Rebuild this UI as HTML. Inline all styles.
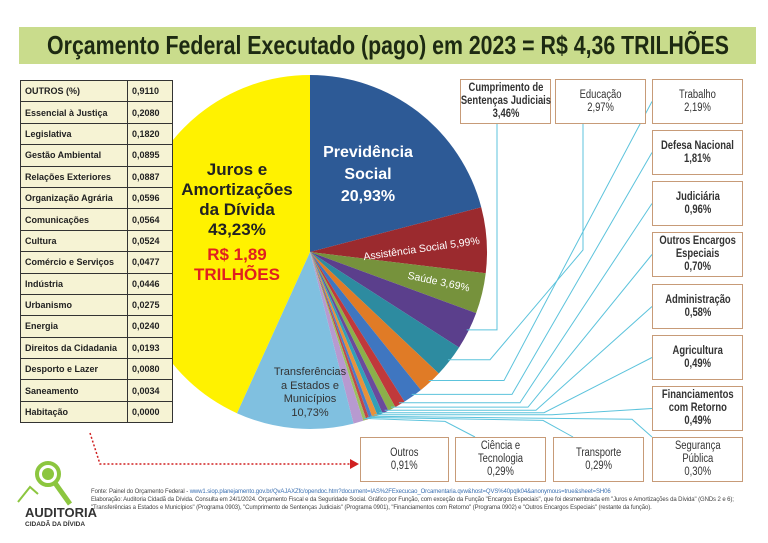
<!DOCTYPE html>
<html><head><meta charset="utf-8"><style>
body{margin:0;width:768px;height:543px;background:#fff;overflow:hidden;font-family:"Liberation Sans",sans-serif;position:relative}
.title{position:absolute;left:19px;top:27px;width:737px;height:37px;background:#c9dc8c;color:#1d2a12;font-weight:bold;font-size:26px;line-height:37px;white-space:nowrap;overflow:hidden}
.title span{position:absolute;left:50%;top:0;transform:translateX(-50%) scaleX(0.82);transform-origin:center}
table{position:absolute;left:20px;top:80px;border-collapse:collapse;background:#f6f3d4;font-size:9px;font-weight:bold;color:#222;border:1.5px solid #333;z-index:5;white-space:nowrap}
td{border:1px solid #333;height:21.4px;padding:0 4px;box-sizing:border-box}
td.n{width:45px}td.l{width:107px}
.box{position:absolute;border:1.5px solid #c79b78;background:#fff;box-sizing:border-box;font-size:11.5px;text-align:center;color:#333;display:flex;align-items:center;justify-content:center;line-height:13px;white-space:nowrap}
.box>div{transform:scaleX(0.82)}
.b{font-weight:bold}
.foot{position:absolute;left:91px;top:488px;width:670px;font-size:6px;line-height:8px;color:#444;letter-spacing:-0.1px}
.foot a{color:#3a6fb0}
</style></head><body>
<div class="title"><span>Orçamento Federal Executado (pago) em 2023 = R$ 4,36 TRILHÕES</span></div>
<svg id="svg" width="768" height="543" style="position:absolute;left:0;top:0"></svg>
<table><tbody id="tb"></tbody></table>
<div id="boxes"></div>
<svg width="90" height="70" style="position:absolute;left:10px;top:452px">
<circle cx="38" cy="22" r="11" fill="none" stroke="#8cc63f" stroke-width="4"/><circle cx="38" cy="22" r="6" fill="#8cc63f"/>
<line x1="45" y1="31" x2="60" y2="52" stroke="#8cc63f" stroke-width="5"/><polyline points="8,50 20,35 28,42" fill="none" stroke="#8cc63f" stroke-width="2"/></svg>
<div style="position:absolute;left:25px;top:505px;font-weight:bold;font-size:13px;color:#333">AUDITORIA</div>
<div style="position:absolute;left:25px;top:521px;font-weight:bold;font-size:6.5px;color:#333">CIDADÃ DA DÍVIDA</div>
<div class="foot">Fonte: Painel do Orçamento Federal - <a>www1.siop.planejamento.gov.br/QvAJAXZfc/opendoc.htm?document=IAS%2FExecucao_Orcamentaria.qvw&amp;host=QVS%40pqlk04&amp;anonymous=true&amp;sheet=SH06</a><br>Elaboração: Auditoria Cidadã da Dívida. Consulta em 24/1/2024. Orçamento Fiscal e da Seguridade Social. Gráfico por Função, com exceção da Função "Encargos Especiais", que foi desmembrada em "Juros e Amortizações da Dívida" (GNDs 2 e 6); "Transferências a Estados e Municípios" (Programa 0903), "Cumprimento de Sentenças Judiciais" (Programa 0901), "Financiamentos com Retorno" (Programa 0902) e "Outros Encargos Especiais" (restante da função).</div>
<script>
const tableLabels=["OUTROS (%)","Essencial à Justiça","Legislativa","Gestão Ambiental","Relações Exteriores","Organização Agrária","Comunicações","Cultura","Comércio e Serviços","Indústria","Urbanismo","Energia","Direitos da Cidadania","Desporto e Lazer","Saneamento","Habitação"];
const tableValues=["0,9110","0,2080","0,1820","0,0895","0,0887","0,0596","0,0564","0,0524","0,0477","0,0446","0,0275","0,0240","0,0193","0,0080","0,0034","0,0000"];
const categories=["Previdência Social","Assistência Social","Saúde","Cumprimento de Sentenças Judiciais","Educação","Trabalho","Defesa Nacional","Judiciária","Outros Encargos Especiais","Administração","Agricultura","Financiamentos com Retorno","Segurança Pública","Transporte","Ciência e Tecnologia","Outros","Transferências a Estados e Municípios","Juros e Amortizações da Dívida"];
const values=[20.93,5.99,3.69,3.46,2.97,2.19,1.81,0.96,0.70,0.58,0.49,0.49,0.30,0.29,0.29,0.91,10.73,43.23];
const colors=["#2d5a96","#9b2a2e","#76923c","#5b3f8c","#2d8ba0","#e07b26","#3f76c0","#c0393b","#8bb04a","#6a4a9c","#31a0b8","#e8913a","#4a7cc8","#c04848","#9cc060","#b79ad0","#80c0e0","#fff200"];
const tb=document.getElementById('tb');
tableLabels.forEach((l,i)=>{const tr=document.createElement('tr');


tr.innerHTML='<td class="l">'+l+'</td><td class="n">'+tableValues[i]+'</td>';tb.appendChild(tr);});
const NS="http://www.w3.org/2000/svg",svg=document.getElementById('svg');
const cx=310,cy=252,r=177;
const total=values.reduce((a,b)=>a+b,0);
function pt(f,rr){const a=f*2*Math.PI;return [cx+rr*Math.sin(a),cy-rr*Math.cos(a)];}
let acc=0;const mids=[];
values.forEach((v,i)=>{const f0=acc/total,f1=(acc+v)/total;acc+=v;mids.push((f0+f1)/2);
const p0=pt(f0,r),p1=pt(f1,r);const p=document.createElementNS(NS,'path');
p.setAttribute('d',`M${cx},${cy}L${p0[0]},${p0[1]}A${r},${r} 0 ${f1-f0>0.5?1:0} 1 ${p1[0]},${p1[1]}Z`);
p.setAttribute('fill',colors[i]);


svg.appendChild(p);});
const boxPos={3:[460,79,91,45],4:[555,79,91,45],5:[652,79,91,45],6:[652,130,91,45],7:[652,181,91,45],8:[652,232,91,45],9:[652,284,91,45],10:[652,335,91,45],11:[652,386,91,45],12:[652,437,91,45],13:[553,437,91,45],14:[455,437,91,45],15:[360,437,89,45]};
const boxLabels={3:"Cumprimento de<br>Sentenças Judiciais",8:"Outros Encargos<br>Especiais",11:"Financiamentos<br>com Retorno",12:"Segurança<br>Pública",14:"Ciência e<br>Tecnologia"};
const bd=document.getElementById('boxes');
Object.keys(boxPos).forEach(k=>{k=+k;const [x,y,w,h]=boxPos[k];
const d=document.createElement('div');d.className='box';


d.style.cssText=`left:${x}px;top:${y}px;width:${w}px;height:${h}px`;
const bold=[3,6,7,8,9,10,11].includes(k)?' class="b"':'';
d.innerHTML=`<div${bold}>${boxLabels[k]||categories[k]}<br>${values[k].toFixed(2).replace('.',',')}%</div>`;bd.appendChild(d);
if(k===15)return;
const e=pt(mids[k],r-2);let pts;
if(k===3)pts=[e,[497,e[1]],[497,y+h]];
else if(k===4)pts=[e,[490,e[1]],[583,250],[583,y+h]];
else if(k<=11){const tx=x,ty=y+h/2;pts=[e,[tx-100-(11-k)*8,e[1]],[tx,ty]];}
else{pts=[e,[x+(k===12?-20:-10),e[1]+3],[x+(k===12?0:20),y]];}
const pl=document.createElementNS(NS,'polyline');pl.setAttribute('points',pts.map(p=>p.join(',')).join(' '));
pl.setAttribute('fill','none');pl.setAttribute('stroke','#5cc3dc');pl.setAttribute('stroke-width','1');


svg.appendChild(pl);});
function txt(x,y,s,size,fill,weight,rot){const t=document.createElementNS(NS,'text');t.setAttribute('x',x);t.setAttribute('y',y);t.setAttribute('font-size',size);t.setAttribute('fill',fill);t.setAttribute('text-anchor','middle');if(weight)t.setAttribute('font-weight',weight);if(rot)t.setAttribute('transform',`rotate(${rot} ${x} ${y})`);t.textContent=s;


svg.appendChild(t);}
txt(237,175,"Juros e",17,"#222","bold");txt(237,195,"Amortizações",17,"#222","bold");txt(237,215,"da Dívida",17,"#222","bold");txt(237,235,"43,23%",17,"#222","bold");
txt(237,260,"R$ 1,89",17,"#e02020","bold");txt(237,280,"TRILHÕES",17,"#e02020","bold");
txt(368,157,"Previdência",16,"#fff","bold");txt(368,179,"Social",16,"#fff","bold");txt(368,201,"20,93%",16,"#fff","bold");
txt(422,252,"Assistência Social  5,99%",10.5,"#fff",null,-8);
txt(438,285,"Saúde  3,69%",10.5,"#fff",null,12);
txt(310,375,"Transferências",11,"#333");txt(310,389,"a Estados e",11,"#333");txt(310,402,"Municípios",11,"#333");txt(310,416,"10,73%",11,"#333");
const ar=document.createElementNS(NS,'polyline');ar.setAttribute('points','90,433 100,464 352,464');ar.setAttribute('fill','none');ar.setAttribute('stroke','#d02020');ar.setAttribute('stroke-width','1.5');ar.setAttribute('stroke-dasharray','2,2');


svg.appendChild(ar);
const ah=document.createElementNS(NS,'polygon');ah.setAttribute('points','350,459 359,464 350,469');ah.setAttribute('fill','#d02020');


svg.appendChild(ah);
</script>
</body></html>
